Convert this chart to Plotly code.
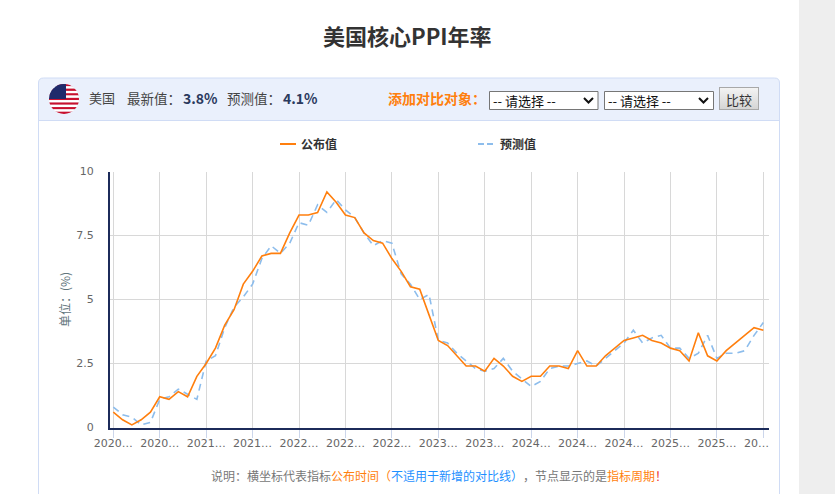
import base64
import plotly.graph_objects as go

W, H = 835, 494
CJK = "Noto Sans CJK SC"

# monthly points, 71 of them, labelled every fifth
published = [0.6, 0.3, 0.1, 0.3, 0.6, 1.2, 1.1, 1.4, 1.2, 2.0,
             2.5, 3.1, 4.0, 4.6, 5.6, 6.1, 6.7, 6.8, 6.8, 7.6,
             8.3, 8.3, 8.4, 9.2, 8.8, 8.3, 8.2, 7.6, 7.3, 7.2,
             6.6, 6.1, 5.5, 5.4, 4.4, 3.4, 3.2, 2.8, 2.4, 2.4,
             2.2, 2.7, 2.4, 2.0, 1.8, 2.0, 2.0, 2.4, 2.4, 2.3,
             3.0, 2.4, 2.4, 2.8, 3.1, 3.4, 3.5, 3.6, 3.4, 3.3,
             3.1, 3.0, 2.6, 3.7, 2.8, 2.6, 3.0, 3.3, 3.6, 3.9, 3.8]
forecast = [0.8, 0.5, 0.4, 0.1, 0.2, 1.1, 1.2, 1.5, 1.3, 1.1,
            2.6, 2.8, 3.9, 4.7, 5.1, 5.6, 6.6, 7.1, 6.8, 7.2,
            8.0, 7.9, 8.7, 8.4, 8.9, 8.5, 8.2, 7.6, 7.1, 7.3,
            7.2, 6.0, 5.6, 5.0, 5.2, 3.4, 3.3, 2.9, 2.6, 2.3,
            2.2, 2.3, 2.7, 2.2, 1.9, 1.6, 1.8, 2.3, 2.4, 2.4,
            2.5, 2.6, 2.4, 2.7, 3.0, 3.3, 3.8, 3.3, 3.5, 3.6,
            3.1, 3.1, 2.7, 2.9, 3.6, 2.7, 2.9, 2.9, 3.0, 3.6, 4.1]
tick_idx = list(range(0, 71, 5))
# the last label sits left of its tick in the original, so it is placed by hand below
tick_labels = ["2020…", "2020…", "2021…", "2021…", "2022…", "2022…", "2022…", "2023…",
               "2023…", "2024…", "2024…", "2024…", "2025…", "2025…", ""]
y_ticks = [0, 2.5, 5, 7.5, 10]
y_labels = ["0", "2.5", "5", "7.5", "10"]
months = list(range(len(published)))


def px(x):
    return x / W


def py(y):
    return 1 - y / H


def rect(x0, y0, x1, y1, fill, line=None, layer="below", lw=1):
    return dict(type="rect", xref="paper", yref="paper", x0=px(x0), x1=px(x1), y0=py(y0), y1=py(y1),
                fillcolor=fill, line=dict(color=line, width=lw if line else 0), layer=layer)


def path(points, color, width=1.5, dash="solid", layer="above"):
    d = "M" + " L".join(f"{px(a):.5f},{py(b):.5f}" for a, b in points)
    return dict(type="path", xref="paper", yref="paper", path=d,
                line=dict(color=color, width=width, dash=dash), layer=layer)


def label(x, y, text, size=13, color="#444", anchor="left", bold=False, angle=0, family=CJK):
    if bold:
        text = f"<b>{text}</b>"
    return dict(xref="paper", yref="paper", x=px(x), y=py(y), text=text, showarrow=False,
                xanchor=anchor, yanchor="middle", textangle=angle,
                font=dict(family=family, size=size, color=color))


def svg_uri(svg):
    return "data:image/svg+xml;base64," + base64.b64encode(svg.encode()).decode()


# round flag for the header
stripes = "".join(f'<rect x="0" y="{i * 30 / 13:.2f}" width="30" height="{30 / 13:.2f}" fill="{"#c8102e" if i % 2 == 0 else "#fff"}"/>'
                  for i in range(13))
flag = svg_uri('<svg xmlns="http://www.w3.org/2000/svg" width="30" height="30" viewBox="0 0 30 30">'
               '<clipPath id="c"><circle cx="15" cy="15" r="15"/></clipPath><g clip-path="url(#c)">'
               + stripes + '<rect width="17" height="15" fill="#1f2a6b"/></g></svg>')
button = svg_uri('<svg xmlns="http://www.w3.org/2000/svg" width="40" height="23" viewBox="0 0 40 23">'
                 '<linearGradient id="g" x1="0" y1="0" x2="0" y2="1"><stop offset="0" stop-color="#f4f4f4"/>'
                 '<stop offset="1" stop-color="#d4d4d4"/></linearGradient>'
                 '<rect x=".5" y=".5" width="39" height="22" fill="url(#g)" stroke="#a8a8a8"/></svg>')

fig = go.Figure()
fig.add_trace(go.Scatter(x=months, y=forecast, mode="lines", name="预测值",
                         line=dict(color="#8dbdec", width=1.6, dash="7px,5px")))
fig.add_trace(go.Scatter(x=months, y=published, mode="lines", name="公布值",
                         line=dict(color="#ff7f0e", width=1.6)))

panel = ("M" + f"{px(38.5)},{py(500)} L{px(38.5)},{py(83)} Q{px(38.5)},{py(78)} {px(43.5)},{py(78)} "
         f"L{px(774.5)},{py(78)} Q{px(779.5)},{py(78)} {px(779.5)},{py(83)} L{px(779.5)},{py(500)}")
header = (f"M{px(38.5)},{py(120.5)} L{px(38.5)},{py(83)} Q{px(38.5)},{py(78)} {px(43.5)},{py(78)} "
          f"L{px(774.5)},{py(78)} Q{px(779.5)},{py(78)} {px(779.5)},{py(83)} L{px(779.5)},{py(120.5)} Z")
shapes = [
    rect(799, 0, 835, 494, "#eeeeee"),
    dict(type="path", xref="paper", yref="paper", path=header, fillcolor="#eaf0fc", line=dict(width=0), layer="below"),
    dict(type="path", xref="paper", yref="paper", path=panel, line=dict(color="#d0dcf5", width=1), layer="below"),
    path([(38.5, 120.5), (779.5, 120.5)], "#d0dcf5", 1, layer="below"),
    rect(489.5, 91.5, 598, 109.5, "#ffffff", "#767676"),
    rect(604.5, 91.5, 713.5, 109.5, "#ffffff", "#767676"),
    path([(584, 98), (588.5, 102.5), (593, 98)], "#111", 2),
    path([(699, 98), (703.5, 102.5), (708, 98)], "#111", 2),
    path([(280, 144), (296, 144)], "#ff7f0e", 2),
    path([(478, 144), (494, 144)], "#8dbdec", 2, dash="6px,3px"),
]

annotations = [
    label(407.5, 35, "美国核心PPI年率", 22, "#333", "center", True),
    label(87, 98, "美国", 13, "#444"),
    label(125, 98, "最新值：", 13.5, "#444"),
    label(181, 98, "3.8%", 14, "#2b3a5e", bold=True),
    label(225, 98, "预测值：", 13.5, "#444"),
    label(281, 98, "4.1%", 14, "#2b3a5e", bold=True),
    label(386, 98, "添加对比对象：", 14, "#ff7f0e", bold=True),
    label(491, 100, "-- 请选择 --", 13, "#111"),
    label(606, 100, "-- 请选择 --", 13, "#111"),
    label(739, 99, "比较", 13, "#333", "center"),
    label(299, 143.5, "公布值", 12, "#333", bold=True),
    label(498, 143.5, "预测值", 12, "#333", bold=True),
    label(64, 300, "单位：(%)", 12, "#62757c", "center", angle=-90),
    label(756, 443, "20…", 11, "#666", "center", family="DejaVu Sans"),
    label(209, 475, '说明：横坐标代表指标<span style="color:#ff7f0e">公布时间（</span>'
                    '<span style="color:#1e90ff">不适用于新增的对比线）</span>\u200b，\u200b节点显示的是'
                    '<span style="color:#ff7f0e">指标周期</span><span style="color:#e33">！</span>',
          12, "#777"),
]

fig.update_layout(
    width=W, height=H, margin=dict(l=0, r=0, t=0, b=0),
    paper_bgcolor="white", plot_bgcolor="rgba(0,0,0,0)", showlegend=False,
    shapes=shapes, annotations=annotations,
    images=[
        dict(source=flag, xref="paper", yref="paper", x=px(49), y=py(84), sizex=30 / W, sizey=30 / H,
             xanchor="left", yanchor="top", layer="above"),
        dict(source=button, xref="paper", yref="paper", x=px(719), y=py(87), sizex=40 / W, sizey=23 / H,
             xanchor="left", yanchor="top", layer="above"),
    ],
    font=dict(family="DejaVu Sans", size=11, color="#666"),
)
fig.update_xaxes(domain=[px(110), px(769)], range=[-0.355, 70.61], tickmode="array", automargin=False,
                 tickvals=tick_idx, ticktext=tick_labels, showgrid=True, gridcolor="#d8d8d8", gridwidth=1,
                 ticks="outside", ticklen=8, tickcolor="#ccd6eb", tickfont=dict(size=11, color="#666"),
                 ticklabelstandoff=-4,
                 showline=True, linecolor="#1c2b5a", linewidth=2, zeroline=False)
fig.update_yaxes(domain=[py(427.5), py(171.5)], range=[0, 10], tickmode="array", automargin=False,
                 tickvals=y_ticks, ticktext=y_labels, showgrid=True, gridcolor="#d8d8d8", gridwidth=1,
                 ticks="outside", ticklen=12, tickcolor="rgba(0,0,0,0)", tickfont=dict(size=11, color="#666"),
                 showline=True, linecolor="#1c2b5a", linewidth=2, zeroline=False)

fig.write_html("out.html", config={"displayModeBar": False},
               post_script="document.body.style.margin='0';document.body.style.overflow='hidden';")
